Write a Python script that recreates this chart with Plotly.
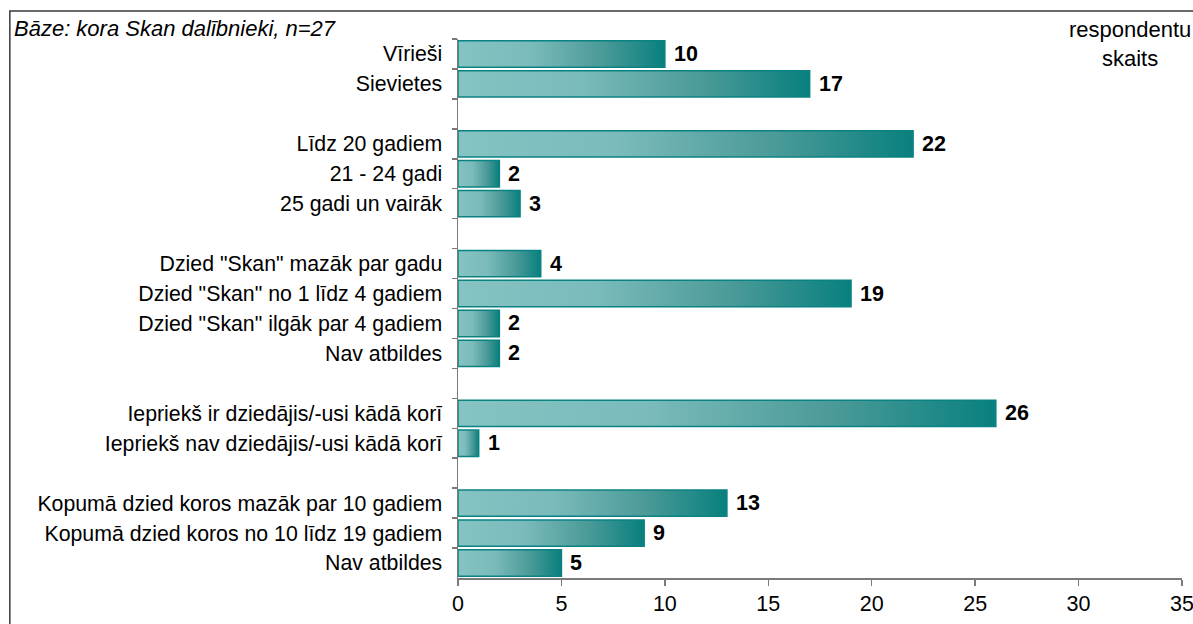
import plotly.graph_objects as go

# kategorijas (tukšās rindas = atstarpes starp grupām)
labels = ['Vīrieši', 'Sievietes', ' ',
          'Līdz 20 gadiem', '21 - 24 gadi', '25 gadi un vairāk', '  ',
          'Dzied "Skan" mazāk par gadu', 'Dzied "Skan" no 1 līdz 4 gadiem',
          'Dzied "Skan" ilgāk par 4 gadiem', 'Nav atbildes', '   ',
          'Iepriekš ir dziedājis/-usi kādā korī', 'Iepriekš nav dziedājis/-usi kādā korī', '    ',
          'Kopumā dzied koros mazāk par 10 gadiem', 'Kopumā dzied koros no 10 līdz 19 gadiem',
          'Nav atbildes\u200b']
values = [10, 17, None,
          22, 2, 3, None,
          4, 19, 2, 2, None,
          26, 1, None,
          13, 9, 5]
x_ticks = [0, 5, 10, 15, 20, 25, 30, 35]

FONT = 'Liberation Sans, Arial, sans-serif'

fig = go.Figure()
fig.add_trace(go.Bar(
    y=labels, x=values, orientation='h',
    marker=dict(color='#4a9f9f', line=dict(color='#0b8282', width=1.5)),
    hoverinfo='skip',
))

# vērtību uzraksti
for lab, v in zip(labels, values):
    if v is None:
        continue
    fig.add_annotation(x=v, y=lab, text='<b>%d</b>' % v, showarrow=False,
                       xanchor='left', xshift=7, font=dict(size=21.5, color='black'))

fig.add_annotation(xref='paper', yref='paper', x=-0.616, y=1, yshift=11,
                   xanchor='left', yanchor='middle', showarrow=False,
                   text='<i>Bāze: kora Skan dalībnieki, n=27</i>',
                   font=dict(size=22, color='black'))
fig.add_annotation(xref='paper', yref='paper', x=0.928, y=1, yshift=10,
                   xanchor='center', yanchor='middle', showarrow=False,
                   text='respondentu', font=dict(size=22, color='black'))
fig.add_annotation(xref='paper', yref='paper', x=0.928, y=1, yshift=-19,
                   xanchor='center', yanchor='middle', showarrow=False,
                   text='skaits', font=dict(size=22, color='black'))

# rāmis ap diagrammu
fig.add_shape(type='rect', xref='paper', yref='paper',
              x0=-0.619, x1=1.2, y0=-0.3, y1=1.052,
              line=dict(color='#3a3a3a', width=1.5), layer='below')

fig.update_layout(
    width=1193, height=624,
    margin=dict(l=458, r=11, t=39, b=46),
    plot_bgcolor='white', paper_bgcolor='white',
    font=dict(family=FONT, size=21.3, color='black'),
    bargap=0.12, showlegend=False,
)
fig.update_xaxes(range=[0, 35], tickvals=x_ticks, showgrid=False, zeroline=False,
                 showline=True, linecolor='#7a7a7a', linewidth=1.5,
                 ticks='outside', ticklen=6, tickcolor='#7a7a7a', tickwidth=1.5,
                 ticklabeloverflow='allow', automargin=False, tickfont=dict(size=21.5))
fig.update_yaxes(type='category', categoryorder='array', categoryarray=labels,
                 autorange='reversed', showgrid=False, zeroline=False,
                 showline=True, linecolor='#7a7a7a', linewidth=1.5,
                 ticks='outside', ticklen=5, tickcolor='#7a7a7a', tickwidth=1.5,
                 tickson='boundaries', ticklabelstandoff=10, automargin=False,
                 tickfont=dict(size=21.3))

post = """
document.body.style.margin = '0';
var gd = document.getElementById('{plot_id}');
function paint() {
  var ns = 'http://www.w3.org/2000/svg';
  var svg = gd.querySelector('svg.main-svg');
  if (!document.getElementById('barGrad')) {
    var defs = svg.querySelector('defs');
    if (!defs) { defs = document.createElementNS(ns, 'defs'); svg.insertBefore(defs, svg.firstChild); }
    var g = document.createElementNS(ns, 'linearGradient');
    g.setAttribute('id', 'barGrad');
    g.setAttribute('x1', '0'); g.setAttribute('y1', '0');
    g.setAttribute('x2', '1'); g.setAttribute('y2', '0');
    [['0', '#86c3c3'], ['0.35', '#7bbbbb'], ['0.7', '#4a9a98'], ['1', '#08807e']].forEach(function (s) {
      var st = document.createElementNS(ns, 'stop');
      st.setAttribute('offset', s[0]); st.setAttribute('stop-color', s[1]);
      g.appendChild(st);
    });
    defs.appendChild(g);
  }
  gd.querySelectorAll('.bars .point path').forEach(function (p) {
    p.style.fill = 'url(#barGrad)';
  });
}
paint();
gd.on('plotly_afterplot', paint);
"""

fig.write_html('out.html', post_script=post, config={'staticPlot': True})
